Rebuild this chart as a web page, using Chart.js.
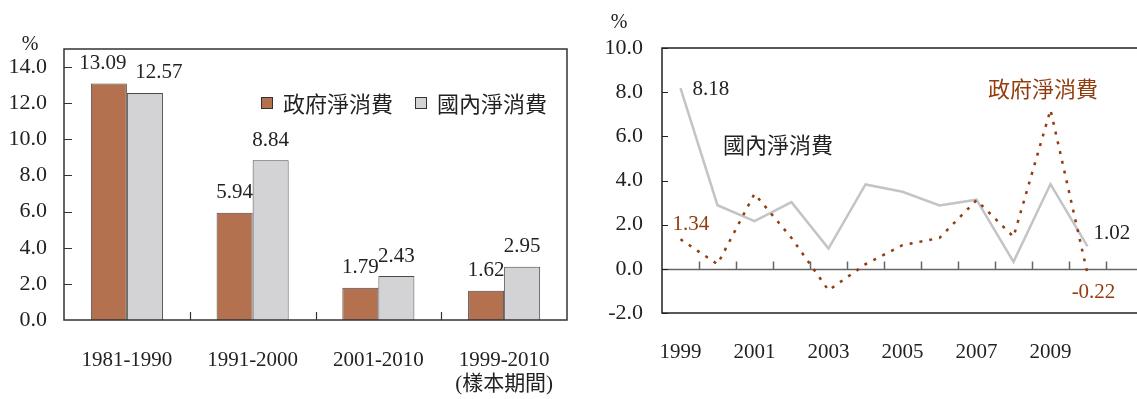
<!DOCTYPE html>
<html>
<head>
<meta charset="utf-8">
<script src="https://cdn.jsdelivr.net/npm/chart.js@4.4.1/dist/chart.umd.min.js"></script>
<style>
html,body{margin:0;padding:0;background:#fff;overflow:hidden;}
#wrap{position:relative;width:1137px;height:399px;overflow:hidden;}
#barChart{position:absolute;left:0;top:0;}
#lineChart{position:absolute;left:600px;top:0;}
</style>
</head>
<body>
<div id="wrap">
  <canvas id="barChart" width="580" height="399"></canvas>
  <canvas id="lineChart" width="560" height="399"></canvas>
</div>
<script>
// period averages (left)
const periods = ['1981-1990', '1991-2000', '2001-2010', '1999-2010'];
const periodNotes = ['', '', '', '(樣本期間)'];
const govAvg = [13.09, 5.94, 1.79, 1.62];
const domAvg = [12.57, 8.84, 2.43, 2.95];
const barTicks = [0, 2, 4, 6, 8, 10, 12, 14];

// yearly growth (right)
const years = ['1999','2000','2001','2002','2003','2004','2005','2006','2007','2008','2009','2010','2011'];
const yearTicks = ['1999', '2001', '2003', '2005', '2007', '2009'];
const govGrowth = [1.34, 0.21, 3.40, 1.40, -0.97, 0.21, 1.07, 1.40, 3.11, 1.45, 7.20, -0.22];
const domGrowth = [8.18, 2.88, 2.16, 3.02, 0.92, 3.82, 3.49, 2.87, 3.13, 0.32, 3.84, 1.02];
const lineTicks = [-2, 0, 2, 4, 6, 8, 10];

const seriesNames = ['政府淨消費', '國內淨消費'];

const SERIF = "'Liberation Serif', 'Times New Roman', 'Noto Sans CJK TC', serif";
const CJK = "'Noto Sans CJK TC', 'Noto Sans CJK JP', sans-serif";
const BROWN = '#b3714f', BROWN_DARK = '#923c0f', GREY = '#d3d3d5', GREY_LINE = '#c4c4c8', INK = '#222';

Chart.defaults.font.family = SERIF;
Chart.defaults.font.size = 21;
Chart.defaults.color = INK;

function setTicks(list) {
  return s => { s.ticks = list.map(v => ({ value: v })); };
}

// frame box + inward tick marks
const frameBar = {
  id: 'frameBar',
  afterDatasetsDraw(chart) {
    const { ctx, chartArea: a, scales: { x, y } } = chart;
    ctx.save();
    ctx.strokeStyle = '#333';
    ctx.lineWidth = 1.5;
    ctx.strokeRect(a.left, a.top, a.right - a.left, a.bottom - a.top);
    ctx.lineWidth = 1.2;
    ctx.beginPath();
    for (const v of barTicks) {
      if (v === 0) continue;
      const py = Math.round(y.getPixelForValue(v)) + 0.5;
      ctx.moveTo(a.left, py); ctx.lineTo(a.left + 8, py);
    }
    for (let i = 1; i < periods.length; i++) {
      const px = Math.round((x.getPixelForValue(i - 1) + x.getPixelForValue(i)) / 2) + 0.5;
      ctx.moveTo(px, a.bottom); ctx.lineTo(px, a.bottom - 8);
    }
    ctx.stroke();

    // unit
    ctx.fillStyle = INK;
    ctx.font = '20px ' + SERIF;
    ctx.textAlign = 'center';
    ctx.textBaseline = 'middle';
    ctx.fillText('%', 30, 45);

    // value labels above the bars
    const shift = { '0-0': -6, '1-0': 14 };
    ctx.font = '21px ' + SERIF;
    chart.data.datasets.forEach((ds, di) => {
      chart.getDatasetMeta(di).data.forEach((bar, i) => {
        const dx = shift[di + '-' + i] || 0;
        ctx.fillText(ds.data[i].toFixed(2), bar.x + dx, bar.y - 20);
      });
    });

    // legend
    const boxes = [[261, BROWN], [415, GREY]];
    ctx.textAlign = 'left';
    ctx.font = '22px ' + CJK;
    boxes.forEach(([bx, col], i) => {
      ctx.fillStyle = col;
      ctx.fillRect(bx, 97, 12, 12);
      ctx.strokeStyle = '#333';
      ctx.lineWidth = 1;
      ctx.strokeRect(bx + 0.5, 97.5, 11, 11);
      ctx.fillStyle = INK;
      ctx.fillText(seriesNames[i], bx + 22, 104);
    });
    ctx.restore();
  }
};

new Chart(document.getElementById('barChart'), {
  type: 'bar',
  data: {
    labels: periods.map((p, i) => periodNotes[i] ? [p, periodNotes[i]] : p),
    datasets: [
      { label: seriesNames[0], data: govAvg, backgroundColor: BROWN, borderColor: '#4a4a4a', borderWidth: 1 },
      { label: seriesNames[1], data: domAvg, backgroundColor: GREY, borderColor: '#4a4a4a', borderWidth: 1 }
    ]
  },
  options: {
    responsive: false,
    animation: false,
    layout: { padding: { top: 49, right: 13, left: 0, bottom: 0 } },
    datasets: { bar: { categoryPercentage: 0.573, barPercentage: 1 } },
    plugins: { legend: { display: false }, tooltip: { enabled: false } },
    scales: {
      x: {
        grid: { display: false }, border: { display: false },
        ticks: { padding: 20, maxRotation: 0, autoSkip: false, font: { size: 21, family: SERIF, lineHeight: 1.15 } },
        afterFit: s => { s.height = 79; }
      },
      y: {
        min: 0, max: 15,
        grid: { display: false }, border: { display: false },
        afterBuildTicks: setTicks(barTicks),
        ticks: { padding: 9, font: { size: 22 }, callback: v => Number(v).toFixed(1) },
        afterFit: s => { s.width = 64; }
      }
    }
  },
  plugins: [frameBar]
});

// zero line with category ticks, frame and text for the yearly chart
const frameLine = {
  id: 'frameLine',
  beforeDatasetsDraw(chart) {
    const { ctx, chartArea: a, scales: { x, y } } = chart;
    const y0 = Math.round(y.getPixelForValue(0)) + 0.5;
    ctx.save();
    ctx.strokeStyle = '#666';
    ctx.lineWidth = 1.5;
    ctx.beginPath();
    ctx.moveTo(a.left, y0); ctx.lineTo(a.right, y0);
    for (let i = 1; i < years.length; i++) {
      const px = Math.round((x.getPixelForValue(i - 1) + x.getPixelForValue(i)) / 2) + 0.5;
      ctx.moveTo(px, y0); ctx.lineTo(px, y0 - 8);
    }
    ctx.stroke();
    ctx.restore();
  },
  afterDatasetsDraw(chart) {
    const { ctx, chartArea: a, scales: { x, y } } = chart;
    ctx.save();
    ctx.strokeStyle = '#222';
    ctx.lineWidth = 1.5;
    ctx.strokeRect(a.left, a.top, a.right - a.left, a.bottom - a.top);
    ctx.lineWidth = 1.2;
    ctx.beginPath();
    for (const v of lineTicks) {
      const py = Math.round(y.getPixelForValue(v)) + 0.5;
      ctx.moveTo(a.left, py); ctx.lineTo(a.left + 6, py);
    }
    ctx.stroke();

    ctx.textBaseline = 'middle';
    ctx.textAlign = 'center';
    ctx.fillStyle = INK;
    ctx.font = '20px ' + SERIF;
    ctx.fillText('%', 19, 23);

    const pt = (di, i) => chart.getDatasetMeta(di).data[i];
    const last = govGrowth.length - 1;
    ctx.font = '21px ' + SERIF;
    ctx.textAlign = 'left';
    // domestic: first and last values
    let p = pt(1, 0);
    ctx.fillText(domGrowth[0].toFixed(2), p.x + 12, p.y + 1);
    p = pt(1, last);
    ctx.fillText(domGrowth[last].toFixed(2), p.x + 6, p.y - 13);
    // government: first and last values
    ctx.fillStyle = BROWN_DARK;
    p = pt(0, 0);
    ctx.fillText(govGrowth[0].toFixed(2), p.x - 8, p.y - 15);
    ctx.textAlign = 'center';
    p = pt(0, last);
    ctx.fillText(govGrowth[last].toFixed(2), p.x + 6, p.y + 19);

    // series names
    ctx.font = '22px ' + CJK;
    ctx.fillText(seriesNames[0], 443, 89);
    ctx.fillStyle = INK;
    ctx.fillText(seriesNames[1], 178, 145);
    ctx.restore();
  }
};

new Chart(document.getElementById('lineChart'), {
  type: 'line',
  data: {
    labels: years,
    datasets: [
      { label: seriesNames[0], data: govGrowth, borderColor: BROWN_DARK, borderWidth: 2.5,
        borderDash: [3, 7], pointRadius: 0, tension: 0, order: 0 },
      { label: seriesNames[1], data: domGrowth, borderColor: GREY_LINE, borderWidth: 2.5,
        pointRadius: 0, tension: 0, order: 1 }
    ]
  },
  options: {
    responsive: false,
    animation: false,
    layout: { padding: { top: 48, right: 17, left: 0, bottom: 0 } },
    plugins: { legend: { display: false }, tooltip: { enabled: false } },
    scales: {
      x: {
        offset: true,
        grid: { display: false }, border: { display: false },
        ticks: {
          padding: 19, maxRotation: 0, autoSkip: false,
          callback: (v, i) => yearTicks.includes(years[i]) ? years[i] : ''
        },
        afterFit: s => { s.height = 86; }
      },
      y: {
        min: -2, max: 10,
        grid: { display: false }, border: { display: false },
        afterBuildTicks: setTicks(lineTicks),
        ticks: { padding: 11, font: { size: 22 }, callback: v => Number(v).toFixed(1) },
        afterFit: s => { s.width = 62; }
      }
    }
  },
  plugins: [frameLine]
});
</script>
</body>
</html>
